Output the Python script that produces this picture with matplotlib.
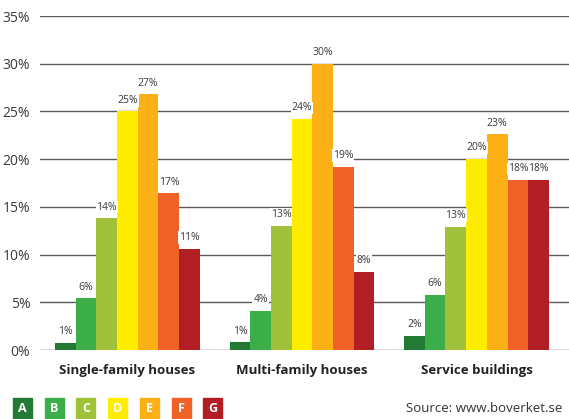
import numpy as np
import matplotlib.pyplot as plt
from matplotlib.patches import Rectangle

plt.rcParams['font.family'] = ['Open Sans', 'DejaVu Sans']

groups = ['Single-family houses', 'Multi-family houses', 'Service buildings']
classes = ['A', 'B', 'C', 'D', 'E', 'F', 'G']
colors = ['#237a35', '#3bae4a', '#a0c23b', '#ffed00', '#fbb116', '#ef6126', '#b11e24']

# bar heights (%) per energy class, one list per building type
single_family = [0.75, 5.4, 13.8, 25.0, 26.8, 16.4, 10.6]
multi_family = [0.8, 4.1, 13.0, 24.2, 30.0, 19.2, 8.2]
service = [1.5, 5.8, 12.9, 20.0, 22.6, 17.8, 17.8]

# printed labels
single_labels = ['1%', '6%', '14%', '25%', '27%', '17%', '11%']
multi_labels = ['1%', '4%', '13%', '24%', '30%', '19%', '8%']
service_labels = ['2%', '6%', '13%', '20%', '23%', '18%', '18%']

yticks = [0, 5, 10, 15, 20, 25, 30, 35]

fig = plt.figure(figsize=(5.69, 4.19), dpi=100)
ax = fig.add_axes([40/569, 1-350/419, 529/569, 334/419])

data = [single_family, multi_family, service]
labels = [single_labels, multi_labels, service_labels]
w = 0.1186
x = np.arange(len(groups))

for yt in yticks:
    ax.axhline(yt, color='#5a5a5a', lw=1.0, zorder=0)

for g in range(len(groups)):
    for i in range(len(classes)):
        xi = x[g] + (i - 3) * w
        ax.bar(xi, data[g][i], width=w, color=colors[i], zorder=2)
        ax.text(xi, data[g][i] + 0.6, labels[g][i], ha='center', va='bottom',
                fontsize=7.5, color='#3a3a3a', zorder=3,
                bbox=dict(facecolor='white', edgecolor='none', pad=0.6))

ax.set_xlim(-0.501, 2.53)
ax.set_ylim(0, 35)
ax.set_yticks(yticks)
ax.set_yticklabels([f'{v}%' for v in yticks], fontsize=10, color='#3a3a3a')
ax.tick_params(axis='y', length=0, pad=7)
ax.set_xticks(x)
ax.set_xticklabels(groups, fontsize=9.5, fontweight='bold', color='#222222')
ax.tick_params(axis='x', length=0, pad=10)
for s in ax.spines.values():
    s.set_visible(False)

# legend boxes
for i, c in enumerate(classes):
    x0 = (13 + i * 31.7) / 569
    fig.patches.append(Rectangle((x0, 1 - 419/419), 19/569, 21/419,
                                 transform=fig.transFigure, color=colors[i]))
    fig.text(x0 + 9.5/569, 1 - 408.5/419, c, ha='center', va='center',
             fontsize=9, color='white', fontweight='bold')

fig.text(562/569, 1 - 408/419, 'Source: www.boverket.se', ha='right', va='center',
         fontsize=9.5, color='#333333')

fig.savefig('out.png', dpi=100)
